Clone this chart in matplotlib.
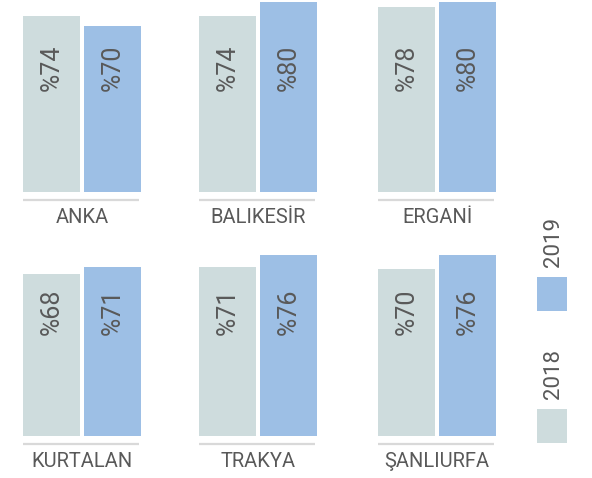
import numpy as np
import matplotlib.pyplot as plt
from matplotlib.patches import Rectangle

plt.rcParams['font.family'] = ['Roboto', 'DejaVu Sans']

# Survey shares by region, 2018 vs 2019
regions = ["ANKA", "BALIKESİR", "ERGANİ", "KURTALAN", "TRAKYA", "ŞANLIURFA"]
share_2018 = [74, 74, 78, 68, 71, 70]
share_2019 = [70, 80, 80, 71, 76, 76]
years = ["2018", "2019"]
colors = ["#cedcdd", "#9dbfe5"]
text_color = "#595959"

W, H = 592, 478
fig = plt.figure(figsize=(W / 100, H / 100), dpi=100)

px_per_unit = 2.375
ymax = 192 / px_per_unit
panel_w = 118
lefts = [23, 199, 378]
baselines = [192, 435.5]

for i, name in enumerate(regions):
    row, col = divmod(i, 3)
    x0 = lefts[col]
    base = baselines[row]
    ax = fig.add_axes([x0 / W, 1 - base / H, panel_w / W, 192 / H])
    vals = [share_2018[i], share_2019[i]]
    ax.bar([0, 1], vals, width=0.934, color=colors, linewidth=0)
    ax.set_xlim(-0.467, 1.467)
    ax.set_ylim(0, ymax)
    ax.axis("off")
    for x, v in zip([0, 1], vals):
        ax.text(x, 42.5, f"%{v}", rotation=90, ha="center", va="bottom",
                fontsize=18, color=text_color)
    # thin rule under each pair of bars
    ax.plot([0, 0.983], [-8 / 192, -8 / 192], transform=ax.transAxes,
            color="#d9d9d9", lw=1.6, clip_on=False, solid_capstyle="butt")
    ax.text(0.5, -26 / 192, name, transform=ax.transAxes, ha="center",
            va="center", fontsize=14.5, color=text_color)

# legend: rotated year labels above colour swatches
legend_boxes = [(537, 409), (537, 277)]
legend_text_y = [374, 242]
for yr, c, (bx, by), ty in zip(years, colors, legend_boxes, legend_text_y):
    fig.add_artist(Rectangle((bx / W, 1 - (by + 34) / H), 30 / W, 34 / H,
                             transform=fig.transFigure, color=c, lw=0))
    fig.text(553 / W, 1 - ty / H, yr, rotation=90, ha="center", va="center",
             fontsize=16, color=text_color)

fig.savefig("out.png", dpi=100)
